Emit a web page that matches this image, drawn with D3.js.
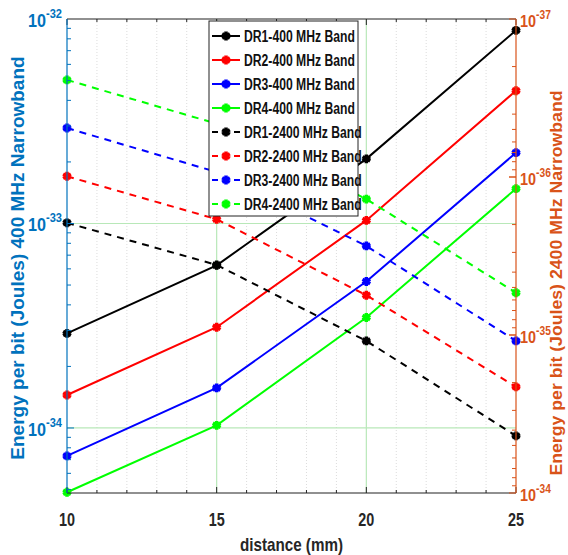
<!DOCTYPE html>
<html>
<head>
<meta charset="UTF-8">
<title>energy per bit</title>
<style>
  body { margin: 0; background: #fff; }
  text { font-family: "Liberation Sans", Arial, sans-serif; font-weight: bold; }
</style>
</head>
<body>
<svg width="568" height="555"></svg>
<script src="https://cdn.jsdelivr.net/npm/d3@7"></script>
<script>
// distance in mm
var distance = [10, 15, 20, 25];
var xTicks = [10, 15, 20, 25];

// 400 MHz band, left axis (J)
var dr1_400 = [2.9e-34, 6.24e-34, 2.07e-33, 8.8e-33];
var dr2_400 = [1.45e-34, 3.11e-34, 1.035e-33, 4.46e-33];
var dr3_400 = [7.3e-35, 1.57e-34, 5.2e-34, 2.22e-33];
var dr4_400 = [4.85e-35, 1.03e-34, 3.47e-34, 1.48e-33];

// 2400 MHz band, right axis (J), axis is reversed
var dr1_2400 = [1.95e-36, 3.6e-36, 1.09e-35, 4.35e-35];
var dr2_2400 = [9.9e-37, 1.85e-36, 5.6e-36, 2.13e-35];
var dr3_2400 = [4.9e-37, 9.3e-37, 2.73e-36, 1.09e-35];
var dr4_2400 = [2.43e-37, 4.6e-37, 1.38e-36, 5.4e-36];

var leftTicks = [-34, -33, -32];
var rightTicks = [-37, -36, -35, -34];

var names = ["DR1-400 MHz Band", "DR2-400 MHz Band", "DR3-400 MHz Band", "DR4-400 MHz Band",
             "DR1-2400 MHz Band", "DR2-2400 MHz Band", "DR3-2400 MHz Band", "DR4-2400 MHz Band"];
var colors = ["#000000", "#ff0000", "#0000ff", "#00ff00"];

var series = [
  {name: names[0], values: dr1_400, color: colors[0], axis: "left"},
  {name: names[1], values: dr2_400, color: colors[1], axis: "left"},
  {name: names[2], values: dr3_400, color: colors[2], axis: "left"},
  {name: names[3], values: dr4_400, color: colors[3], axis: "left"},
  {name: names[4], values: dr1_2400, color: colors[0], axis: "right"},
  {name: names[5], values: dr2_2400, color: colors[1], axis: "right"},
  {name: names[6], values: dr3_2400, color: colors[2], axis: "right"},
  {name: names[7], values: dr4_2400, color: colors[3], axis: "right"}
];

var svg = d3.select("svg"),
    margin = {top: 19, right: 52, bottom: 62, left: 67},
    width = +svg.attr("width") - margin.left - margin.right,
    height = +svg.attr("height") - margin.top - margin.bottom;

var blue = "#0072bd", orange = "#d95319";

// squeeze text a bit, the original font is narrow
function narrow(sel, f) {
  sel.each(function () {
    var w = this.getComputedTextLength();
    d3.select(this).attr("textLength", w * f).attr("lengthAdjust", "spacingAndGlyphs");
  });
}

var x = d3.scaleLinear().domain([10, 25]).range([0, width]);
var yL = d3.scaleLog().domain([Math.pow(10, -34.318), 1e-32]).range([height, 0]);
var yR = d3.scaleLog().domain([1e-37, 1e-34]).range([0, height]);

var g = svg.append("g")
    .attr("transform", "translate(" + margin.left + "," + margin.top + ")");

// minor grid (x, dotted)
d3.range(11, 25).filter(function (d) { return d % 5 !== 0; }).forEach(function (d) {
  g.append("line").attr("x1", x(d)).attr("x2", x(d)).attr("y1", 0).attr("y2", height)
    .attr("stroke", "#dcdcdc").attr("stroke-width", 1).attr("stroke-dasharray", "1,2");
});
// major grid
[15, 20].forEach(function (d) {
  g.append("line").attr("x1", x(d)).attr("x2", x(d)).attr("y1", 0).attr("y2", height)
    .attr("stroke", "#b8e8b8").attr("stroke-width", 1.2);
});
[-34, -33].forEach(function (e) {
  g.append("line").attr("x1", 0).attr("x2", width).attr("y1", yL(Math.pow(10, e))).attr("y2", yL(Math.pow(10, e)))
    .attr("stroke", "#b8e8b8").attr("stroke-width", 1.2);
});

// lines
var lineL = d3.line().x(function (d, i) { return x(distance[i]); }).y(function (d) { return yL(d); });
var lineR = d3.line().x(function (d, i) { return x(distance[i]); }).y(function (d) { return yR(d); });
var marker = d3.symbol().type(d3.symbolAsterisk).size(55);

series.forEach(function (s) {
  var yy = s.axis === "left" ? yL : yR;
  g.append("path")
    .attr("d", (s.axis === "left" ? lineL : lineR)(s.values))
    .attr("fill", "none")
    .attr("stroke", s.color)
    .attr("stroke-width", 2)
    .attr("stroke-dasharray", s.axis === "left" ? null : "7,6");
  g.selectAll(null)
    .data(s.values)
    .enter()
    .append("path")
    .attr("d", marker)
    .attr("transform", function (d, i) { return "translate(" + x(distance[i]) + "," + yy(d) + ")"; })
    .attr("fill", s.color)
    .attr("stroke", s.color)
    .attr("stroke-width", 3.5);
});

// box top and bottom
g.append("line").attr("x1", 0).attr("x2", width).attr("y1", 0).attr("y2", 0).attr("stroke", "#222").attr("stroke-width", 1.2);
g.append("line").attr("x1", 0).attr("x2", width).attr("y1", height).attr("y2", height).attr("stroke", "#222").attr("stroke-width", 1.2);

// x ticks (inside, bottom and top)
d3.range(10, 26).forEach(function (d) {
  var len = d % 5 === 0 ? 6 : 3;
  g.append("line").attr("x1", x(d)).attr("x2", x(d)).attr("y1", height).attr("y2", height - len).attr("stroke", "#222");
  g.append("line").attr("x1", x(d)).attr("x2", x(d)).attr("y1", 0).attr("y2", len).attr("stroke", "#222");
});
g.selectAll(".xlab")
  .data(xTicks)
  .enter()
  .append("text")
  .attr("x", function (d) { return x(d); })
  .attr("y", height + 33)
  .attr("text-anchor", "middle")
  .attr("font-size", 18)
  .attr("fill", "#262626")
  .text(function (d) { return d; })
  .call(narrow, 0.8);

// left axis
g.append("line").attr("x1", 0).attr("x2", 0).attr("y1", 0).attr("y2", height).attr("stroke", blue).attr("stroke-width", 1.2);
[-35, -34, -33].forEach(function (e) {
  for (var k = 1; k <= 9; k++) {
    var v = k * Math.pow(10, e);
    if (v < yL.domain()[0] || v > yL.domain()[1]) continue;
    var len = k === 1 ? 7 : 4;
    g.append("line").attr("x1", 0).attr("x2", len).attr("y1", yL(v)).attr("y2", yL(v)).attr("stroke", blue);
  }
});
leftTicks.forEach(function (e) {
  var t = g.append("text")
    .attr("x", -5)
    .attr("y", yL(Math.pow(10, e)) + 8)
    .attr("text-anchor", "end")
    .attr("font-size", 19)
    .attr("fill", blue)
    .attr("transform", "translate(" + (-5) + ",0) scale(0.85,1) translate(5,0)");
  t.append("tspan").text("10");
  t.append("tspan").attr("dy", -9).attr("font-size", 13).text(e);
});

// right axis
g.append("line").attr("x1", width).attr("x2", width).attr("y1", 0).attr("y2", height).attr("stroke", orange).attr("stroke-width", 1.2);
[-37, -36, -35].forEach(function (e) {
  for (var k = 1; k <= 10; k++) {
    var v = k * Math.pow(10, e);
    var len = (k === 1 || k === 10) ? 7 : 4;
    g.append("line").attr("x1", width).attr("x2", width - len).attr("y1", yR(v)).attr("y2", yR(v)).attr("stroke", orange);
  }
});
rightTicks.forEach(function (e) {
  var t = g.append("text")
    .attr("x", 0)
    .attr("y", yR(Math.pow(10, e)) + 8)
    .attr("text-anchor", "start")
    .attr("font-size", 17)
    .attr("fill", orange)
    .attr("transform", "translate(" + (width + 4) + ",0) scale(0.85,1)");
  t.append("tspan").text("10");
  t.append("tspan").attr("dy", -8).attr("font-size", 12).text(e);
});

// axis titles
svg.append("text")
  .attr("transform", "translate(24,258) rotate(-90)")
  .attr("text-anchor", "middle")
  .attr("font-size", 19)
  .attr("fill", blue)
  .text("Energy per bit (Joules) 400 MHz Narrowband");
svg.append("text")
  .attr("transform", "translate(562,283) rotate(-90)")
  .attr("text-anchor", "middle")
  .attr("font-size", 17)
  .attr("fill", orange)
  .text("Energy per bit (Joules) 2400 MHz Narrowband")
  .call(narrow, 1.04);
svg.append("text")
  .attr("x", margin.left + width / 2)
  .attr("y", 551)
  .attr("text-anchor", "middle")
  .attr("font-size", 19)
  .attr("fill", "#262626")
  .text("distance (mm)")
  .call(narrow, 0.8);

// legend
var lg = svg.append("g").attr("transform", "translate(209,21)");
lg.append("rect").attr("width", 149).attr("height", 195).attr("fill", "#fff").attr("stroke", "#222").attr("stroke-width", 1);
series.forEach(function (s, i) {
  var yy = 15 + i * 24;
  lg.append("line").attr("x1", 3).attr("x2", 31).attr("y1", yy).attr("y2", yy)
    .attr("stroke", s.color).attr("stroke-width", 2)
    .attr("stroke-dasharray", s.axis === "left" ? null : "6,5");
  lg.append("path").attr("d", marker).attr("transform", "translate(17," + yy + ")")
    .attr("fill", s.color).attr("stroke", s.color).attr("stroke-width", 3.5);
  lg.append("text").attr("x", 35).attr("y", yy + 6).attr("font-size", 16).attr("fill", "#111").text(s.name)
    .call(narrow, 0.76);
});
</script>
</body>
</html>
